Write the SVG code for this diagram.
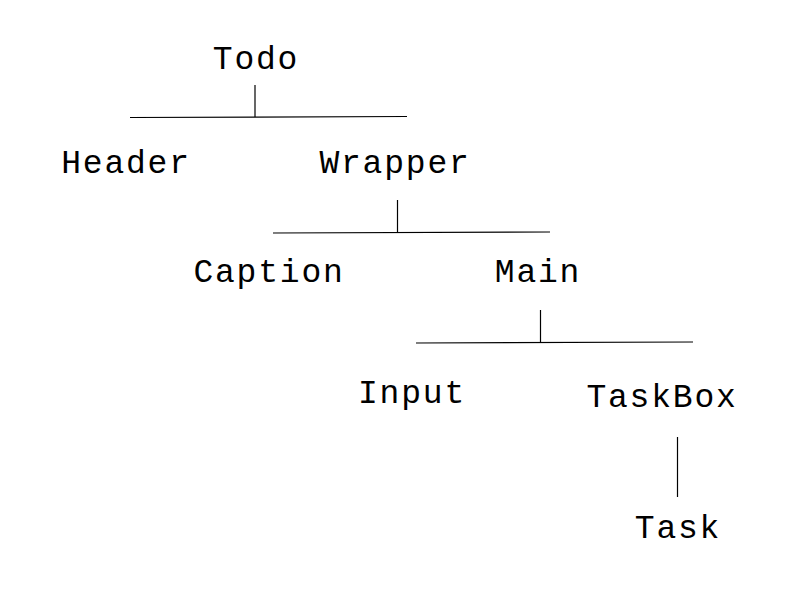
<svg xmlns="http://www.w3.org/2000/svg" width="800" height="600" viewBox="0 0 800 600">
<style>
  text { font-family: "Liberation Mono", "Courier New", monospace; font-size: 33px; letter-spacing: 1.8px; fill: #000; text-anchor: middle; }
  .c line { stroke: #000; stroke-width: 1.2; }
</style>
<rect width="800" height="600" fill="#fff"/>
<g id="connectors" class="c">
  <line x1="255" y1="85" x2="255" y2="117"/>
  <line x1="130" y1="117.5" x2="407" y2="116.5"/>
  <line x1="397.5" y1="200" x2="397.5" y2="232.5"/>
  <line x1="273" y1="233" x2="550" y2="232"/>
  <line x1="540.5" y1="310" x2="540.5" y2="342.5"/>
  <line x1="416" y1="343" x2="693" y2="342"/>
  <line x1="677.5" y1="437" x2="677.5" y2="497"/>
</g>
<g id="todo"><text x="256" y="69">Todo</text></g>
<g id="header"><text x="126" y="173">Header</text></g>
<g id="wrapper"><text x="395" y="173">Wrapper</text></g>
<g id="caption"><text x="269" y="282">Caption</text></g>
<g id="main"><text x="538" y="282">Main</text></g>
<g id="input"><text x="412" y="403">Input</text></g>
<g id="taskbox"><text x="662" y="407">TaskBox</text></g>
<g id="task"><text x="678" y="538">Task</text></g>
</svg>
